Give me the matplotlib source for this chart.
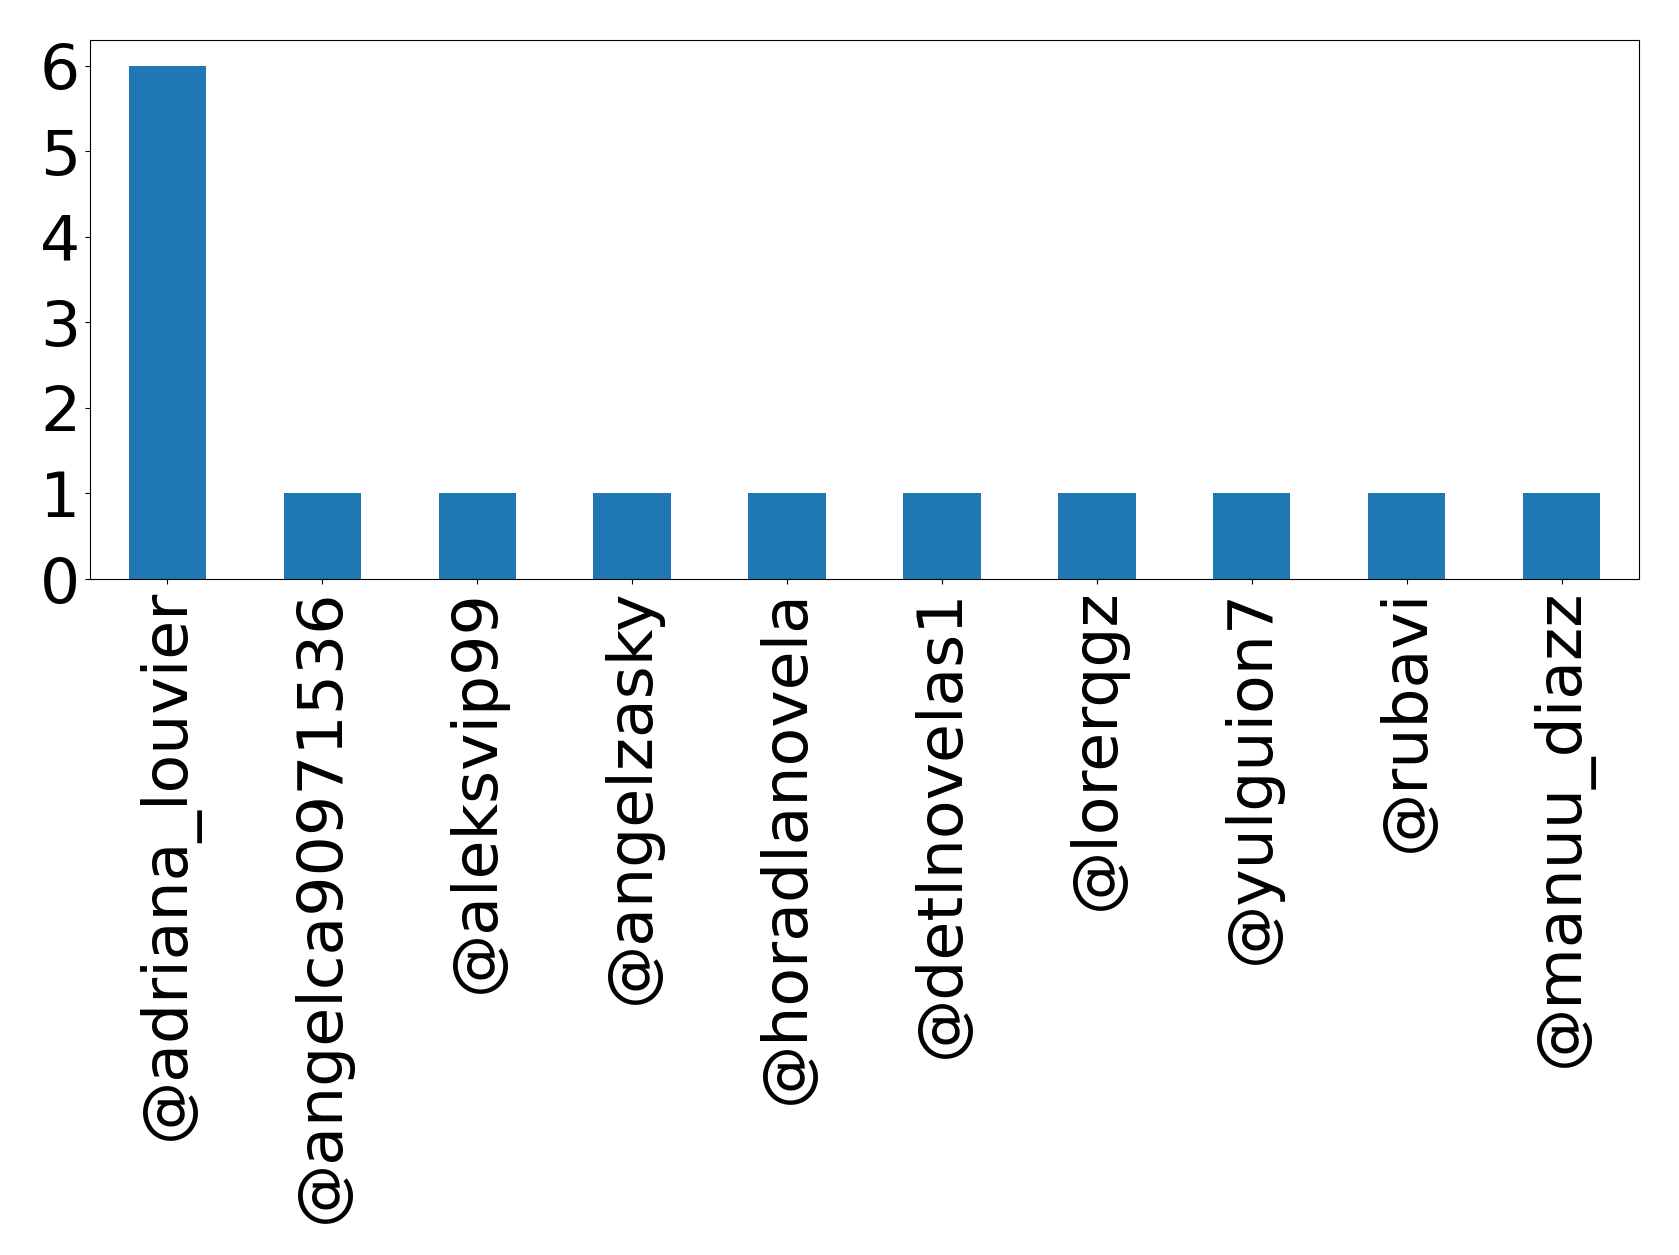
import matplotlib
matplotlib.use("Agg")
import matplotlib.pyplot as plt

users = ["@adriana_louvier", "@angelca90971536", "@aleksvip99", "@angelzasky",
         "@horadlanovela", "@detlnovelas1", "@lorerqgz", "@yulguion7",
         "@rubavi", "@manuu_diazz"]
counts = [6, 1, 1, 1, 1, 1, 1, 1, 1, 1]

dpi = 100
fig = plt.figure(figsize=(1679/dpi, 1255/dpi), dpi=dpi)
ax = fig.add_axes([90/1679, 1 - 579/1255, (1639-90)/1679, (579-40)/1255])

x = list(range(len(users)))
ax.bar(x, counts, width=0.5, color="#1f77b4")
ax.set_xlim(-0.5, len(users) - 0.5)
ax.set_ylim(0, max(counts) * 1.05)
ax.set_yticks(range(0, max(counts) + 1))
ax.set_xticks(x)
ax.set_xticklabels(users, rotation=90)
ax.tick_params(axis="both", labelsize=45.5)

plt.savefig("out.png", dpi=dpi)
